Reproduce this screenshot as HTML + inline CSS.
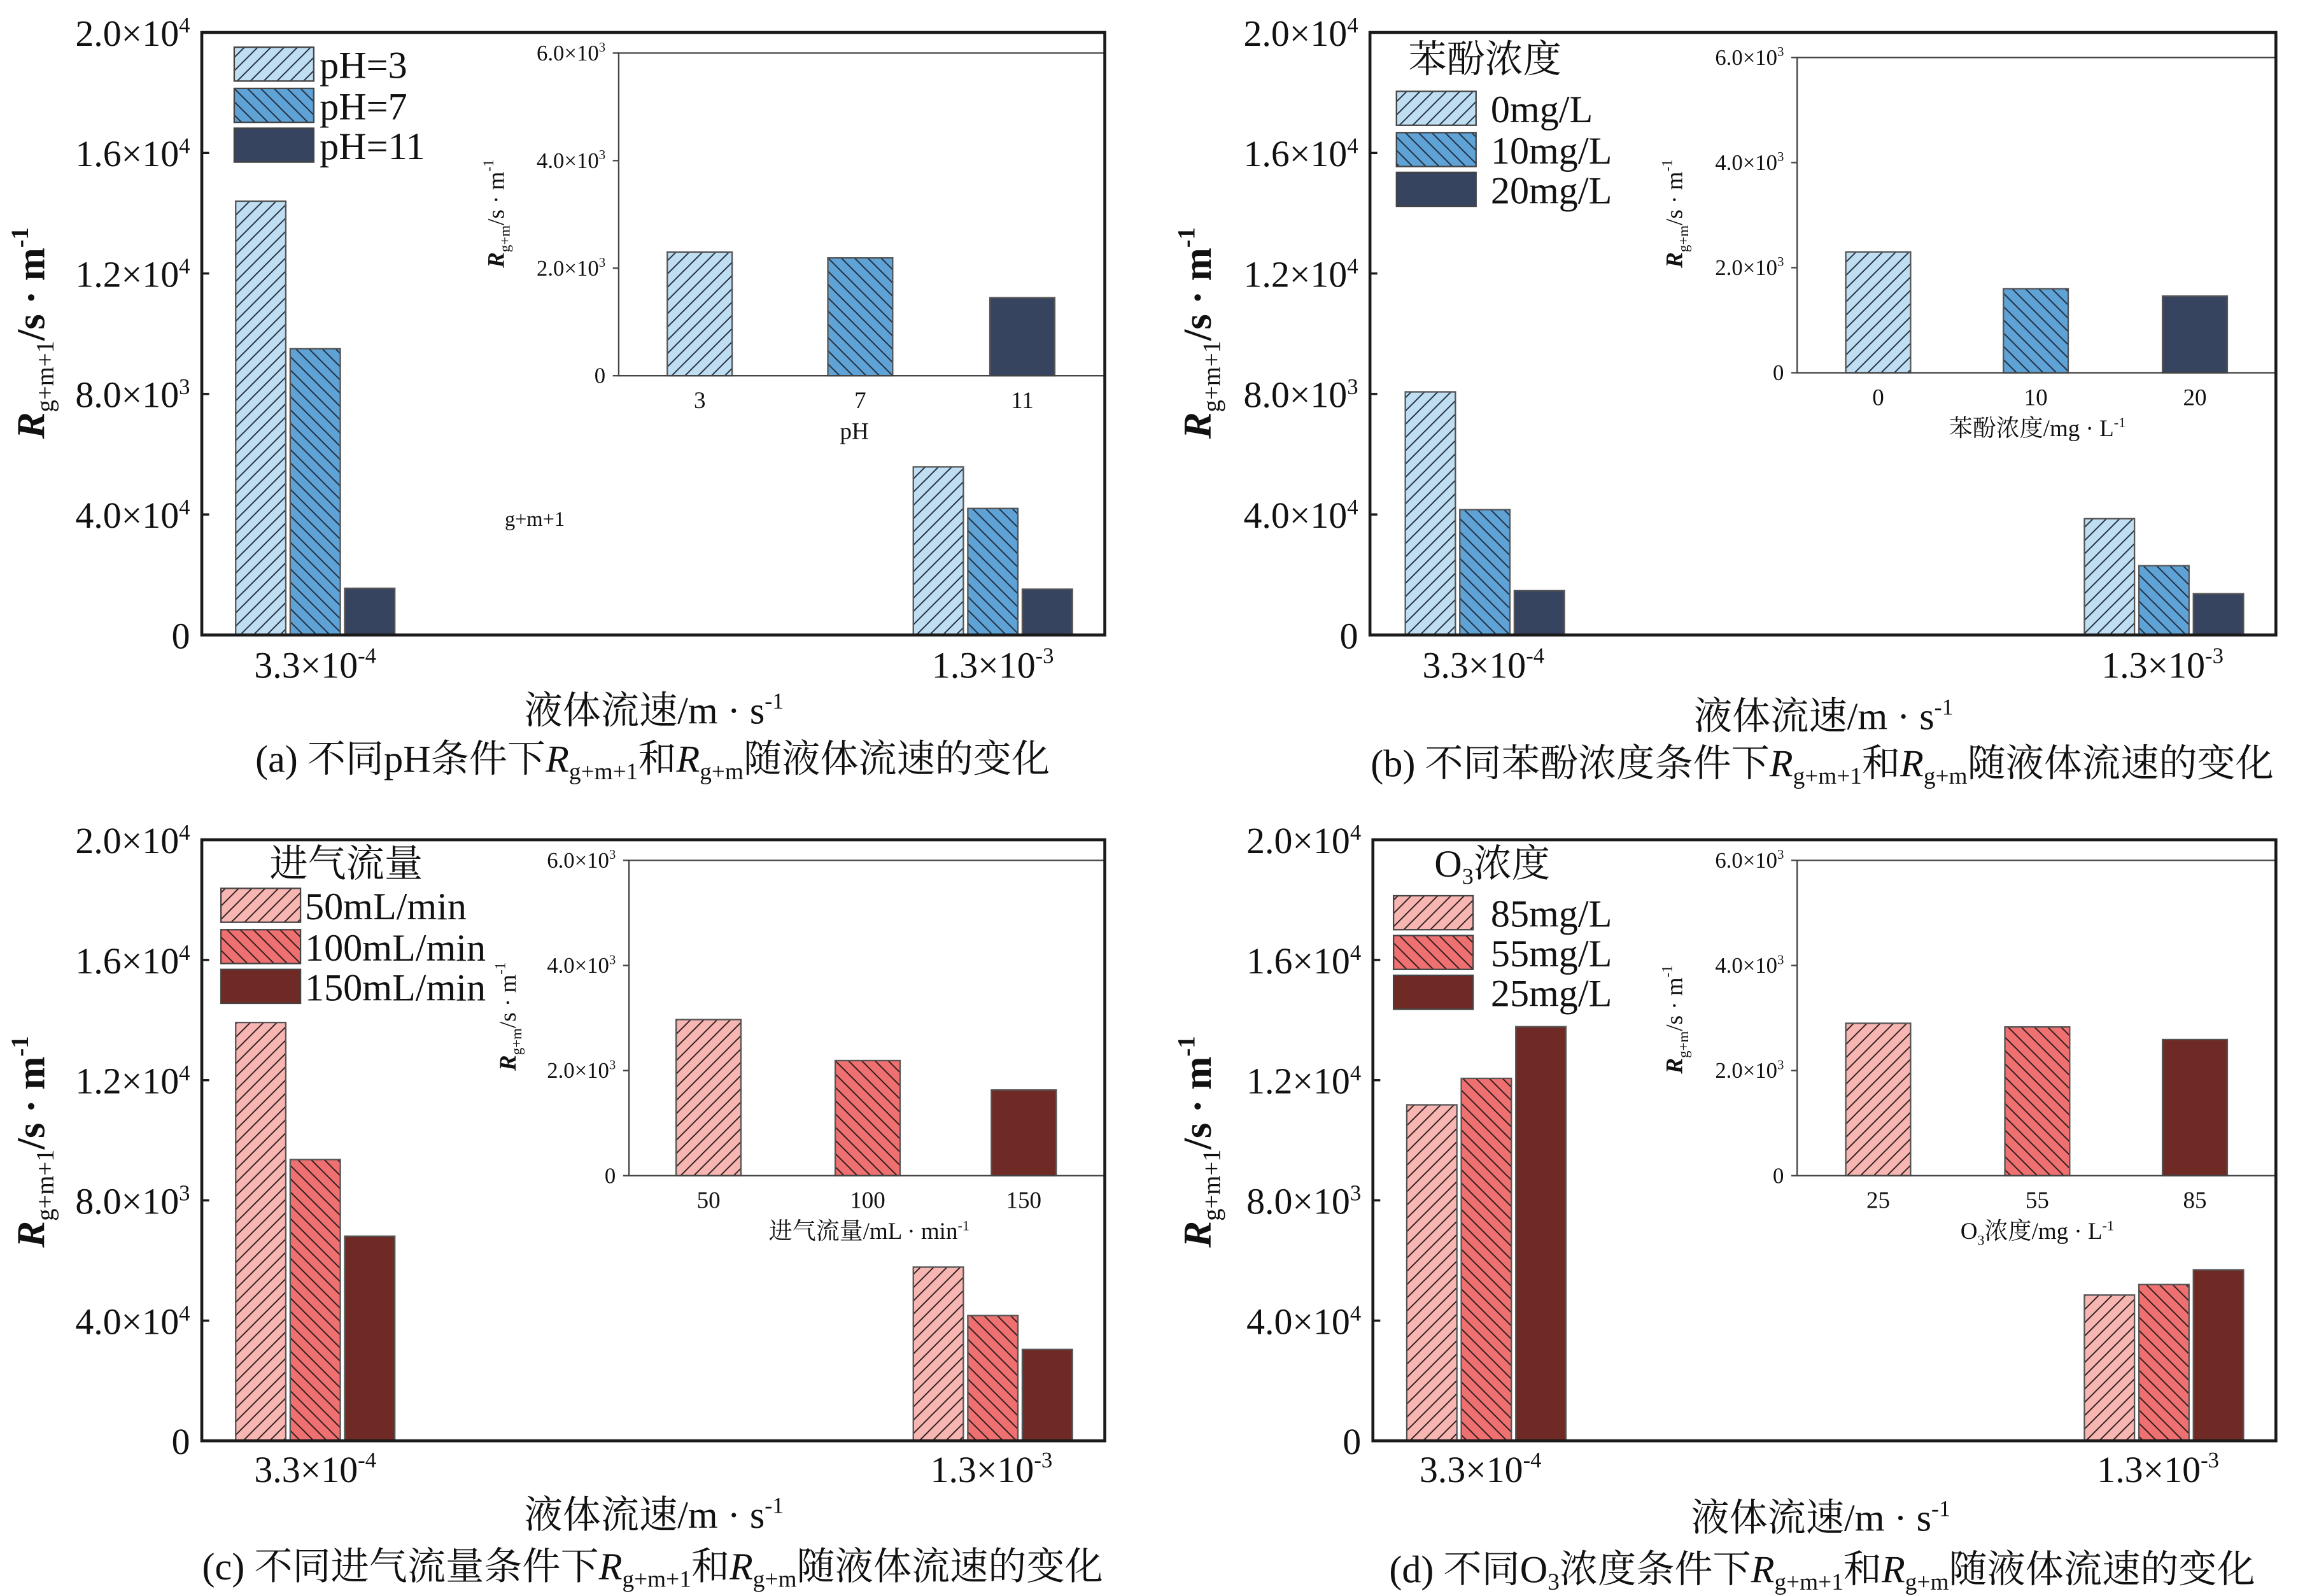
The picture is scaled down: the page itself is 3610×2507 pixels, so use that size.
<!DOCTYPE html>
<html><head><meta charset="utf-8">
<style>
html,body{margin:0;padding:0;background:#fff;}
svg{display:block;font-family:"Liberation Serif","Noto Serif CJK SC",serif;}
</style></head>
<body>
<svg id="fig" xmlns="http://www.w3.org/2000/svg" width="3610" height="2507" viewBox="0 0 1560 1083.3">
<defs>
<pattern id="pb1" patternUnits="userSpaceOnUse" width="9" height="9"><rect width="9" height="9" fill="#bfdef2"/><path d="M-1,1 l2,-2 M0,9 l9,-9 M8,10 l2,-2" stroke="#1e2a3a" stroke-width="0.8"/></pattern>
<pattern id="pb2" patternUnits="userSpaceOnUse" width="9" height="9"><rect width="9" height="9" fill="#5ea2d6"/><path d="M-1,8 l2,2 M0,0 l9,9 M8,-1 l2,2" stroke="#1e2a3a" stroke-width="0.8"/></pattern>
<pattern id="pr1" patternUnits="userSpaceOnUse" width="9" height="9"><rect width="9" height="9" fill="#f8b6b2"/><path d="M-1,1 l2,-2 M0,9 l9,-9 M8,10 l2,-2" stroke="#2a1a1a" stroke-width="0.8"/></pattern>
<pattern id="pr2" patternUnits="userSpaceOnUse" width="9" height="9"><rect width="9" height="9" fill="#ee7070"/><path d="M-1,8 l2,2 M0,0 l9,9 M8,-1 l2,2" stroke="#2a1a1a" stroke-width="0.8"/></pattern>
</defs>
</svg>
<script>
// ---- data ----
const groupLabels = ["3.3×10<tspan font-size='60%' dy='-10'>-4</tspan>", "1.3×10<tspan font-size='60%' dy='-10'>-3</tspan>"];
const mainTickValues = [0, 4000, 8000, 12000, 16000, 20000];
const mainTickLabels = ["0", "4.0×10<tspan font-size='60%' dy='-9'>4</tspan>", "8.0×10<tspan font-size='60%' dy='-9'>3</tspan>", "1.2×10<tspan font-size='60%' dy='-9'>4</tspan>", "1.6×10<tspan font-size='60%' dy='-9'>4</tspan>", "2.0×10<tspan font-size='60%' dy='-9'>4</tspan>"];
const insetTickValues = [0, 2000, 4000, 6000];
const insetTickLabels = ["0", "2.0×10<tspan font-size='60%' dy='-6'>3</tspan>", "4.0×10<tspan font-size='60%' dy='-6'>3</tspan>", "6.0×10<tspan font-size='60%' dy='-6'>3</tspan>"];

const aLow = [14400, 9500, 1550];
const aHigh = [5580, 4200, 1520];
const aInset = [2300, 2190, 1450];
const aCats = ["3", "7", "11"];
const aLegend = ["pH=3", "pH=7", "pH=11"];

const bLow = [8070, 4160, 1470];
const bHigh = [3860, 2300, 1370];
const bInset = [2300, 1600, 1460];
const bCats = ["0", "10", "20"];
const bLegend = ["0mg/L", "10mg/L", "20mg/L"];

const cLow = [13920, 9360, 6810];
const cHigh = [5780, 4170, 3040];
const cInset = [2970, 2190, 1630];
const cCats = ["50", "100", "150"];
const cLegend = ["50mL/min", "100mL/min", "150mL/min"];

const dLow = [11180, 12060, 13780];
const dHigh = [4850, 5200, 5690];
const dInset = [2900, 2830, 2590];
const dCats = ["25", "55", "85"];
const dLegend = ["85mg/L", "55mg/L", "25mg/L"];

const svg = document.getElementById('fig');
const NS = "http://www.w3.org/2000/svg";
function el(tag, attrs, parent) {
  const e = document.createElementNS(NS, tag);
  for (const k in attrs) e.setAttribute(k, attrs[k]);
  (parent || svg).appendChild(e);
  return e;
}

const panels = [
 {id:"a", low:aLow, high:aHigh, inset:aInset, cats:aCats, legend:aLegend, fills:["url(#pb1)","url(#pb2)","#37445f"],
  box:{l:137,r:750,t:22,b:431}, ib:{l:420,r:750,t:36,b:255}, gStarts:[160,620], gCenters:[214,674], iCenters:[475,584,694],
  iLabY:272, iTitle:"pH", iTitleX:580, iTitleY:298, xtY:460, xTitleX:444, xTitleY:491, capX:443, capY:524, capW:566,
  caption:"(a) 不同pH条件下<tspan font-style='italic'>R</tspan><tspan font-size='62%' dy='5'>g+m+1</tspan><tspan dy='-5'>和</tspan><tspan font-style='italic'>R</tspan><tspan font-size='62%' dy='5'>g+m</tspan><tspan dy='-5'>随液体流速的变化</tspan>",
  ytX:30, ytY:226, iytX:342, iytY:145, iTickX:411, header:null, swX:159, swYs:[32,60,87], txX:217},
 {id:"b", low:bLow, high:bHigh, inset:bInset, cats:bCats, legend:bLegend, fills:["url(#pb1)","url(#pb2)","#37445f"],
  box:{l:930,r:1545,t:22,b:431}, ib:{l:1220,r:1545,t:39,b:253}, gStarts:[954,1415], gCenters:[1007,1468], iCenters:[1275,1382,1490],
  iLabY:270, iTitle:"苯酚浓度/mg · L<tspan font-size='60%' dy='-6'>-1</tspan>", iTitleX:1383, iTitleY:296, xtY:460, xTitleX:1238, xTitleY:495, capX:1237, capY:527, capW:640,
  caption:"(b) 不同苯酚浓度条件下<tspan font-style='italic'>R</tspan><tspan font-size='62%' dy='5'>g+m+1</tspan><tspan dy='-5'>和</tspan><tspan font-style='italic'>R</tspan><tspan font-size='62%' dy='5'>g+m</tspan><tspan dy='-5'>随液体流速的变化</tspan>",
  ytX:822, ytY:226, iytX:1142, iytY:145, iTickX:1211, header:"苯酚浓度", hX:1008, hY:49, swX:948, swYs:[62,90,117], txX:1012},
 {id:"c", low:cLow, high:cHigh, inset:cInset, cats:cCats, legend:cLegend, fills:["url(#pr1)","url(#pr2)","#702a26"],
  box:{l:137,r:750,t:570,b:978}, ib:{l:427,r:750,t:584,b:798}, gStarts:[160,620], gCenters:[214,673], iCenters:[481,589,695],
  iLabY:815, iTitle:"进气流量/mL · min<tspan font-size='60%' dy='-6'>-1</tspan>", iTitleX:590, iTitleY:841, xtY:1006, xTitleX:444, xTitleY:1037, capX:443, capY:1072, capW:640,
  caption:"(c) 不同进气流量条件下<tspan font-style='italic'>R</tspan><tspan font-size='62%' dy='5'>g+m+1</tspan><tspan dy='-5'>和</tspan><tspan font-style='italic'>R</tspan><tspan font-size='62%' dy='5'>g+m</tspan><tspan dy='-5'>随液体流速的变化</tspan>",
  ytX:30, ytY:775, iytX:350, iytY:690, iTickX:418, header:"进气流量", hX:235, hY:595, swX:150, swYs:[603,631,658], txX:207},
 {id:"d", low:dLow, high:dHigh, inset:dInset, cats:dCats, legend:dLegend, fills:["url(#pr1)","url(#pr2)","#702a26"],
  box:{l:932,r:1545,t:570,b:978}, ib:{l:1220,r:1545,t:584,b:798}, gStarts:[955,1415], gCenters:[1005,1465], iCenters:[1275,1383,1490],
  iLabY:815, iTitle:"O<tspan font-size='60%' dy='4'>3</tspan><tspan dy='-4'>浓度/mg · L</tspan><tspan font-size='60%' dy='-6'>-1</tspan>", iTitleX:1383, iTitleY:841, xtY:1006, xTitleX:1236, xTitleY:1039, capX:1237, capY:1074, capW:608,
  caption:"(d) 不同O<tspan font-size='62%' dy='5'>3</tspan><tspan dy='-5'>浓度条件下</tspan><tspan font-style='italic'>R</tspan><tspan font-size='62%' dy='5'>g+m+1</tspan><tspan dy='-5'>和</tspan><tspan font-style='italic'>R</tspan><tspan font-size='62%' dy='5'>g+m</tspan><tspan dy='-5'>随液体流速的变化</tspan>",
  ytX:822, ytY:775, iytX:1142, iytY:692, iTickX:1211, header:"O<tspan font-size='60%' dy='5'>3</tspan><tspan dy='-5'>浓度</tspan>", hX:1013, hY:595, swX:946, swYs:[608,635,662], txX:1012}
];

const MAINMAX = 20000, INSETMAX = 6000, BW = 34, BSTEP = 37, IBW = 44;

panels.forEach(p => {
  const g = el('g', {});
  
  
  const B = p.box, I = p.ib;
  const ym = v => B.b - v / MAINMAX * (B.b - B.t);
  const yi = v => I.b - v / INSETMAX * (I.b - I.t);

  // main bars
  [p.low, p.high].forEach((vals, gi) => {
    vals.forEach((v, si) => {
      const r = el('rect', {x: p.gStarts[gi] + si * BSTEP, y: ym(v), width: BW, height: ym(0) - ym(v), fill: p.fills[si], stroke: '#555', 'stroke-width': 1}, g);
      
      
    });
  });
  // inset bars
  p.inset.forEach((v, si) => {
    const r = el('rect', {x: p.iCenters[si] - IBW / 2, y: yi(v), width: IBW, height: yi(0) - yi(v), fill: p.fills[si], stroke: '#555', 'stroke-width': 1}, g);
    
    
  });
  // inset frame
  const ifr = el('path', {d: `M${I.r},${I.t} H${I.l} V${I.b} H${I.r}`, fill: 'none', stroke: '#444', 'stroke-width': 1}, g);
  
  
  insetTickValues.forEach((v, i) => {
    el('line', {x1: I.l - 4, x2: I.l, y1: yi(v), y2: yi(v), stroke: '#444', 'stroke-width': 1}, g);
    const t = el('text', {x: p.iTickX, y: yi(v) + 5, 'text-anchor': 'end', 'font-size': 15, fill: '#111'}, g);
    t.innerHTML = insetTickLabels[i];
    
    
  });
  p.cats.forEach((c, i) => {
    const t = el('text', {x: p.iCenters[i], y: p.iLabY + 5, 'text-anchor': 'middle', 'font-size': 16, fill: '#111'}, g);
    t.textContent = c;
    
    
  });
  const it = el('text', {x: p.iTitleX, y: p.iTitleY, 'text-anchor': 'middle', 'font-size': 16, fill: '#111'}, g);
  it.innerHTML = p.iTitle;
  
  
  const iyt = el('text', {transform: `translate(${p.iytX},${p.iytY}) rotate(-90)`, 'text-anchor': 'middle', 'font-size': 16, fill: '#111'}, g);
  iyt.innerHTML = "<tspan font-style='italic' font-weight='bold'>R</tspan><tspan font-size='62%' dy='4'>g+m</tspan><tspan dy='-4'>/s · m</tspan><tspan font-size='62%' dy='-7'>-1</tspan>";
  
  

  // main frame
  const fr = el('rect', {x: B.l, y: B.t, width: B.r - B.l, height: B.b - B.t, fill: 'none', stroke: '#1a1a1a', 'stroke-width': 2}, g);
  
  
  mainTickValues.forEach((v, i) => {
    el('line', {x1: B.l, x2: B.l + 5, y1: ym(v), y2: ym(v), stroke: '#1a1a1a', 'stroke-width': 1.5}, g);
    const t = el('text', {x: B.l - 8, y: ym(v) + 9, 'text-anchor': 'end', 'font-size': 25, fill: '#111'}, g);
    t.innerHTML = mainTickLabels[i];
    
    
  });
  groupLabels.forEach((lab, i) => {
    const t = el('text', {x: p.gCenters[i], y: p.xtY, 'text-anchor': 'middle', 'font-size': 25, fill: '#111'}, g);
    t.innerHTML = lab;
    
    
  });
  const xt = el('text', {x: p.xTitleX, y: p.xTitleY, 'text-anchor': 'middle', 'font-size': 26, fill: '#111'}, g);
  xt.innerHTML = "液体流速/m · s<tspan font-size='60%' dy='-10'>-1</tspan>";
  
  
  const yt = el('text', {transform: `translate(${p.ytX},${p.ytY}) rotate(-90)`, 'text-anchor': 'middle', 'font-size': 27, fill: '#111', 'font-weight': 'bold'}, g);
  yt.innerHTML = "<tspan font-style='italic'>R</tspan><tspan font-size='62%' dy='6' font-weight='normal'>g+m+1</tspan><tspan dy='-6'>/s · m</tspan><tspan font-size='62%' dy='-11'>-1</tspan>";
  
  
  const cap = el('text', {x: p.capX, y: p.capY, 'text-anchor': 'middle', 'font-size': 26, fill: '#111'}, g);
  cap.innerHTML = p.caption;
  
  

  // legend
  if (p.header) {
    const h = el('text', {x: p.hX, y: p.hY, 'text-anchor': 'middle', 'font-size': 26, fill: '#111'}, g);
    h.innerHTML = p.header;
    
    
  }
  p.legend.forEach((lab, i) => {
    const sw = el('rect', {x: p.swX, y: p.swYs[i], width: 54, height: 23, fill: p.fills[i], stroke: '#444', 'stroke-width': 1}, g);
    
    
    const t = el('text', {x: p.txX, y: p.swYs[i] + 21, 'font-size': 26, fill: '#111'}, g);
    t.textContent = lab;
    
    
  });
});

const stray = el('text', {x: 363, y: 357, 'text-anchor': 'middle', 'font-size': 14, fill: '#111'});
stray.textContent = "g+m+1";


</script>
</body></html>
